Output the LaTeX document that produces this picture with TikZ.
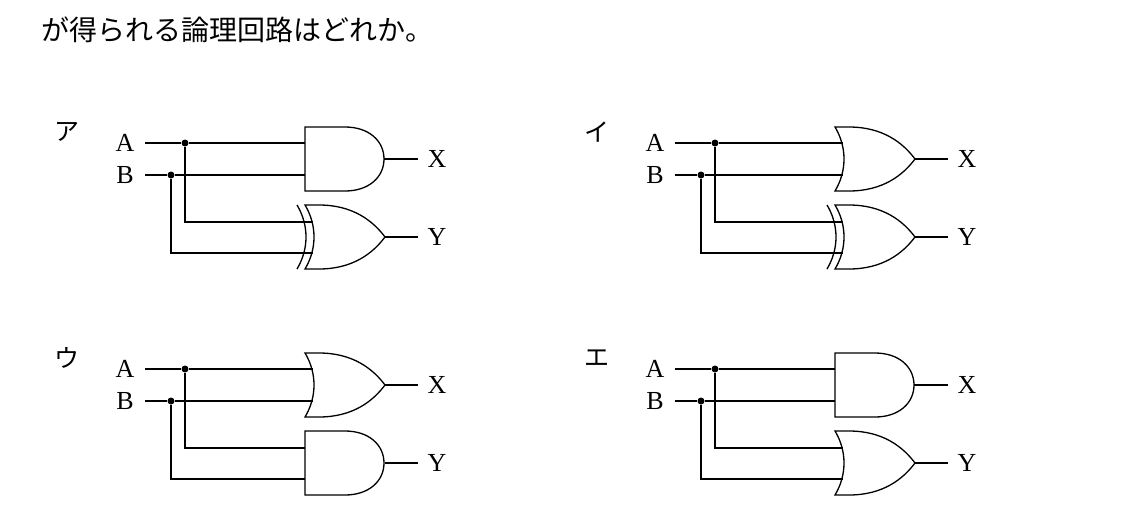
\documentclass[tikz,border=0pt]{standalone}
\usepackage{fontspec}
\setmainfont{Liberation Serif}
\newfontfamily\cjk{Noto Sans CJK JP}
\begin{document}
\begin{tikzpicture}[x=1pt,y=-1pt,line width=1.3pt,
  lbl/.style={font=\fontsize{26}{26}\selectfont,inner sep=0pt},
  dotn/.style={circle,fill,inner sep=0pt,minimum size=7pt},
  andg/.pic={\draw (0,-32) -- (40,-32) .. controls (64,-32) and (79,-18) .. (79,0) .. controls (79,18) and (64,32) .. (40,32) -- (0,32) -- cycle;},
  org/.pic={\draw (0,-32) -- (14,-32) .. controls (48,-32) and (68,-16) .. (80,0) .. controls (68,16) and (48,32) .. (14,32) -- (0,32) .. controls (12,12) and (12,-12) .. (0,-32) -- cycle;},
  xorg/.pic={\draw (0,-32) -- (14,-32) .. controls (48,-32) and (68,-16) .. (80,0) .. controls (68,16) and (48,32) .. (14,32) -- (0,32) .. controls (12,12) and (12,-12) .. (0,-32) -- cycle;
    \draw (-8,-32) .. controls (4,-12) and (4,12) .. (-8,32);}]
\useasboundingbox (0,0) rectangle (1141,512);
\node[anchor=west,inner sep=0pt,font=\cjk\fontsize{28}{28}\selectfont] (title) at (41,30) {が得られる論理回路はどれか。};
\newcommand{\circuit}[8]{%
 \begin{scope}[shift={(#1,#2)}]
  \node[font=\cjk\fontsize{25}{25}\selectfont,inner sep=0pt] (k#7) at (67,132) {#3};
  \node[lbl] (a#7) at (125,143) {A};
  \node[lbl] (b#7) at (125,175) {B};
  \node[dotn] (da#7) at (185,143) {};
  \node[dotn] (db#7) at (171,175) {};
  \pic at (305,159) {#4};
  \pic at (305,237) {#5};
  \coordinate (ua#7) at (#6,143);
  \coordinate (ub#7) at (#6,175);
  \coordinate (la#7) at (#8,222);
  \coordinate (lb#7) at (#8,253);
  \coordinate (ox#7) at (384,159);
  \coordinate (oy#7) at (385,237);
  \node[lbl] (x#7) at (437,159) {X};
  \node[lbl] (y#7) at (437,237) {Y};
  \draw (145,143) -- (da#7) -- (ua#7);
  \draw (145,175) -- (db#7) -- (ub#7);
  \draw (da#7) |- (la#7);
  \draw (db#7) |- (lb#7);
  \draw (ox#7) -- ([xshift=-9pt]x#7.west);
  \draw (oy#7) -- ([xshift=-9pt]y#7.west);
 \end{scope}}
\circuit{0}{0}{ア}{andg}{xorg}{305}{p}{313}
\circuit{530}{0}{イ}{org}{xorg}{313}{q}{313}
\circuit{0}{226}{ウ}{org}{andg}{313}{r}{305}
\circuit{530}{226}{エ}{andg}{org}{305}{s}{313}
\end{tikzpicture}
\end{document}
